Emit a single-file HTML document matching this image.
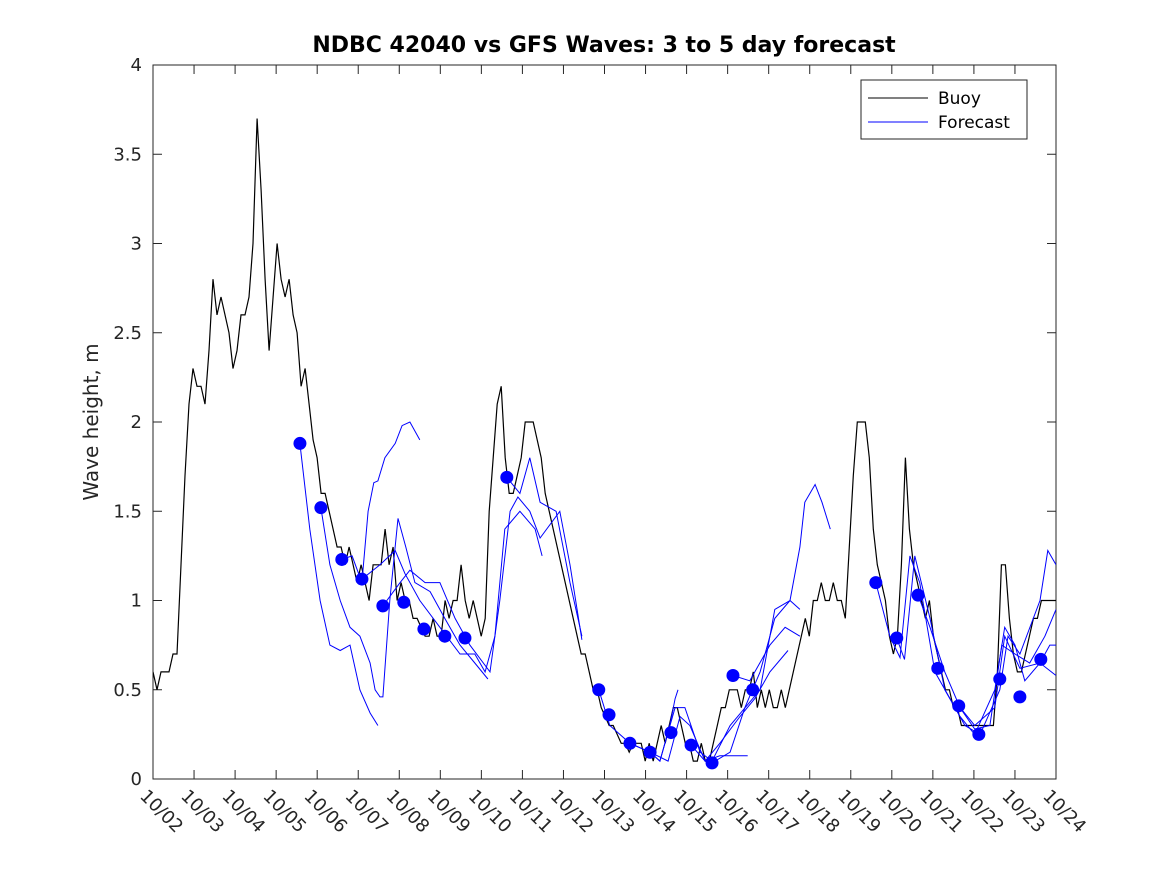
<!DOCTYPE html>
<html><head><meta charset="utf-8"><style>
html,body{margin:0;padding:0;background:#fff;}
svg{display:block;font-family:"DejaVu Sans","Liberation Sans",sans-serif;}
</style></head><body>
<svg id="chart" width="1167" height="875" viewBox="0 0 1167 875" xmlns="http://www.w3.org/2000/svg">
<rect width="1167" height="875" fill="#fff"/>
<text x="604" y="52" text-anchor="middle" font-size="22" font-weight="bold" fill="#000">NDBC 42040 vs GFS Waves: 3 to 5 day forecast</text>
<text transform="translate(98,422) rotate(-90)" text-anchor="middle" font-size="20" fill="#262626">Wave height, m</text>
<g id="plot"></g>
<g id="legend">
<rect x="861" y="80" width="166" height="59" fill="#fff" stroke="#262626" stroke-width="1"/>
<line x1="868" y1="98" x2="928" y2="98" stroke="#000"/>
<text x="938" y="104" font-size="17" fill="#000">Buoy</text>
<line x1="868" y1="122" x2="928" y2="122" stroke="#0000ff"/>
<text x="938" y="128" font-size="17" fill="#000">Forecast</text>
</g>
</svg>
<script>
const xTickLabels=["10/02","10/03","10/04","10/05","10/06","10/07","10/08","10/09","10/10","10/11","10/12","10/13","10/14","10/15","10/16","10/17","10/18","10/19","10/20","10/21","10/22","10/23","10/24"];
const yTicks=[0,0.5,1,1.5,2,2.5,3,3.5,4];
const yTickLabels=["0","0.5","1","1.5","2","2.5","3","3.5","4"];
const buoyStart=0;
const buoyStep=0.0975;
const buoyValues=[0.6,0.5,0.6,0.6,0.6,0.7,0.7,1.2,1.7,2.1,2.3,2.2,2.2,2.1,2.4,2.8,
2.6,2.7,2.6,2.5,2.3,2.4,2.6,2.6,2.7,3.0,3.7,3.3,2.8,2.4,2.7,3.0,2.8,2.7,2.8,2.6,2.5,2.2,
2.3,2.1,1.9,1.8,1.6,1.6,1.5,1.4,1.3,1.3,1.2,1.3,1.2,1.1,1.2,1.1,1.0,1.2,1.2,1.2,1.4,1.2,1.3,1.0,1.1,1.0,1.0,0.9,0.9,0.85,0.8,0.8,0.9,0.8,0.8,1.0,0.9,1.0,1.0,1.2,1.0,0.9,1.0,0.9,0.8,
0.9,1.5,1.8,2.1,2.2,1.8,1.6,1.6,1.7,1.8,2.0,2.0,2.0,1.9,
1.8,1.6,1.5,1.4,1.3,1.2,1.1,1.0,0.9,0.8,0.7,0.7,0.6,0.5,0.5,0.4,0.35,0.3,0.3,0.25,0.2,0.2,0.15,0.2,0.2,0.2,0.1,0.2,0.1,0.2,0.3,0.2,0.3,0.4,0.4,0.3,0.2,0.2,0.1,0.1,0.2,0.1,0.1,0.2,0.3,0.4,0.4,0.5,0.5,0.5,0.4,0.5,0.5,0.6,0.4,0.5,0.4,0.5,0.4,0.4,0.5,0.4,0.5,0.6,0.7,0.8,0.9,0.8,1.0,1.0,1.1,1.0,1.0,1.1,1.0,1.0,
0.9,1.3,1.7,2.0,2.0,2.0,1.8,1.4,1.2,1.1,1.0,0.8,0.7,0.8,1.2,1.8,1.4,1.2,1.1,1.0,0.9,1.0,0.8,0.7,0.6,0.5,0.5,0.4,0.4,0.3,0.3,0.3,0.3,0.3,0.3,0.3,0.3,0.3,0.6,1.2,1.2,0.9,0.7,0.6,0.6,0.7,0.8,0.9,0.9,1.0,1.0,1.0,1.0,1.0];
const dotDays=[3.58,4.09,4.60,5.09,5.60,6.11,6.60,7.11,7.60,8.62,10.86,11.11,11.62,12.11,12.62,13.11,13.62,14.13,14.61,17.61,18.12,18.64,19.12,19.63,20.12,20.63,21.12,21.63];
const dotValues=[1.88,1.52,1.23,1.12,0.97,0.99,0.84,0.80,0.79,1.69,0.50,0.36,0.20,0.15,0.26,0.19,0.09,0.58,0.50,1.10,0.79,1.03,0.62,0.41,0.25,0.56,0.46,0.67];
const fc1=[[3.58,1.88],[3.82,1.4],[4.07,1.0],[4.31,0.75],[4.56,0.72],[4.80,0.75],[5.04,0.5],[5.29,0.37],[5.48,0.3]];
const fc2=[[4.09,1.52],[4.31,1.2],[4.56,1.0],[4.80,0.85],[5.04,0.8],[5.29,0.65],[5.41,0.5],[5.53,0.46],[5.60,0.46],[5.77,1.0],[5.97,1.46],[6.16,1.3],[6.38,1.1],[6.75,1.05],[7.11,0.9],[7.48,0.75],[7.84,0.65],[8.16,0.56]];
const fc3=[[4.60,1.23],[4.85,1.25],[5.09,1.1],[5.24,1.5],[5.38,1.66],[5.48,1.67],[5.65,1.8],[5.90,1.88],[6.07,1.98],[6.26,2.0],[6.50,1.9]];
const fc4=[[5.09,1.12],[5.53,1.2],[5.90,1.28],[6.14,1.15],[6.50,1.0],[6.99,0.85],[7.48,0.7],[7.84,0.7],[8.09,0.6],[8.33,0.8],[8.57,1.4],[8.94,1.5],[9.31,1.4],[9.48,1.25]];
const fc5=[[5.60,0.97],[6.02,1.1],[6.26,1.17],[6.63,1.1],[6.99,1.1],[7.36,0.9],[7.72,0.75],[8.21,0.6],[8.45,1.0],[8.70,1.5],[8.89,1.58],[9.18,1.5],[9.43,1.35],[9.91,1.5],[10.16,1.2],[10.45,0.78]];
const fc6=[[8.62,1.69],[8.94,1.6],[9.18,1.8],[9.43,1.55],[9.82,1.5],[10.16,1.1],[10.45,0.8]];
const fc7=[[10.86,0.5],[11.13,0.3],[11.62,0.2],[12.11,0.15],[12.35,0.1],[12.59,0.3],[12.72,0.45],[12.79,0.5]];
const fc8=[[12.11,0.15],[12.35,0.1],[12.72,0.4],[12.96,0.4],[13.33,0.15],[13.62,0.1],[14.06,0.3],[14.79,0.5],[15.15,0.95],[15.52,1.0],[15.76,1.3],[15.88,1.55],[16.13,1.65],[16.30,1.55],[16.50,1.4]];
const fc9=[[13.62,0.09],[14.06,0.15],[14.42,0.4],[14.79,0.6],[15.15,0.9],[15.52,1.0],[15.76,0.95]];
const fc10=[[14.13,0.58],[14.54,0.55],[15.03,0.75],[15.40,0.85],[15.76,0.8]];
const fc11=[[13.11,0.19],[13.45,0.1],[13.81,0.2],[14.30,0.35],[14.66,0.45],[15.03,0.6],[15.47,0.72]];
const fc12=[[11.62,0.2],[12.11,0.15],[12.55,0.1],[12.84,0.35],[13.08,0.3],[13.45,0.1],[13.81,0.13],[14.49,0.13]];
const fc13=[[17.61,1.1],[17.95,0.8],[18.20,0.68],[18.44,1.25],[18.68,1.1],[19.05,0.6],[19.42,0.45],[19.78,0.3],[20.15,0.25],[20.63,0.5],[20.83,0.8],[21.12,0.7],[21.61,1.0],[21.80,1.28],[22.0,1.2]];
const fc14=[[18.12,0.79],[18.31,0.67],[18.56,1.25],[18.93,0.9],[19.29,0.5],[19.66,0.35],[20.02,0.25],[20.51,0.5],[20.75,0.85],[21.0,0.75],[21.24,0.55],[21.61,0.65],[21.85,0.75],[22.0,0.75]];
const fc15=[[18.64,1.03],[18.93,0.85],[19.29,0.6],[19.66,0.4],[20.02,0.28],[20.39,0.3],[20.68,0.75],[21.0,0.7],[21.36,0.65],[21.73,0.8],[22.0,0.95]];
const fc16=[[19.63,0.41],[20.02,0.3],[20.51,0.4],[20.75,0.8],[21.12,0.62],[21.61,0.65],[22.0,0.58]];
const forecasts=[fc1,fc2,fc3,fc4,fc5,fc6,fc7,fc8,fc9,fc10,fc11,fc12,fc13,fc14,fc15,fc16];

const NS="http://www.w3.org/2000/svg";
const L=153,R=1056,T=65,B=779;
const xS=d=>L+(d/22)*(R-L);
const yS=v=>B-(v/4)*(B-T);
const plot=document.getElementById('plot');
function mk(tag,attrs,parent){const e=document.createElementNS(NS,tag);for(const k in attrs)e.setAttribute(k,attrs[k]);(parent||plot).appendChild(e);return e;}

const frame=mk('rect',{x:L,y:T,width:R-L,height:B-T,fill:'#fff',stroke:'#262626','stroke-width':1});



const clip=mk('clipPath',{id:'pc'});
mk('rect',{x:L,y:T,width:R-L,height:B-T},clip);

xTickLabels.forEach((lab,i)=>{
  const x=xS(i);
  const t1=mk('line',{x1:x,y1:B,x2:x,y2:B-9,stroke:'#262626'});
  
  
  const t2=mk('line',{x1:x,y1:T,x2:x,y2:T+9,stroke:'#262626'});
  
  
  const tx=mk('text',{transform:`translate(${x-14},${B+18}) rotate(45)`,'font-size':18,fill:'#262626'});
  tx.textContent=lab;
  
  
});
yTicks.forEach((v,i)=>{
  const y=yS(v);
  const t1=mk('line',{x1:L,y1:y,x2:L+9,y2:y,stroke:'#262626'});
  
  
  const t2=mk('line',{x1:R,y1:y,x2:R-9,y2:y,stroke:'#262626'});
  
  
  const tx=mk('text',{x:L-11,y:y+6,'text-anchor':'end','font-size':18,fill:'#262626'});
  tx.textContent=yTickLabels[i];
  
  
});

const g=mk('g',{'clip-path':'url(#pc)'});


const bp=buoyValues.map((v,i)=>xS(buoyStart+i*buoyStep).toFixed(1)+','+yS(v).toFixed(1)).join(' ');
const buoy=mk('polyline',{points:bp,fill:'none',stroke:'#000','stroke-width':1.2},g);


forecasts.forEach(f=>{
  const p=f.map(q=>xS(q[0]).toFixed(1)+','+yS(q[1]).toFixed(1)).join(' ');
  const pl=mk('polyline',{points:p,fill:'none',stroke:'#0000ff','stroke-width':1},g);
  
  
});
dotDays.forEach((d,i)=>{
  const c=mk('circle',{cx:xS(d),cy:yS(dotValues[i]),r:6.5,fill:'#0000ff'},g);
  
  
});
</script>
</body></html>
